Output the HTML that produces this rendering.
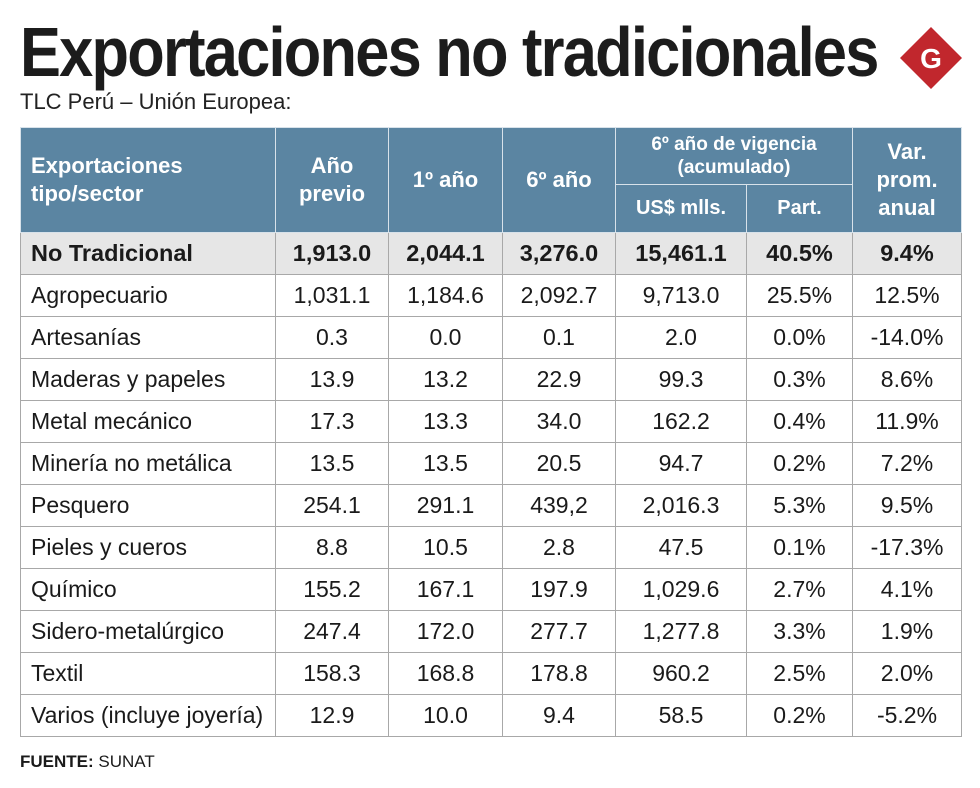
<!DOCTYPE html>
<html><head><meta charset="utf-8">
<style>
body{margin:0;width:980px;height:788px;background:#fff;position:relative;overflow:hidden;font-family:"Liberation Sans",sans-serif;color:#1a1a1a}
#title{position:absolute;left:20px;top:12px;font-weight:bold;font-size:70px;line-height:80px;letter-spacing:-2px;white-space:nowrap;transform-origin:0 0;color:#1c1c1c}
#sub{position:absolute;left:20px;top:89px;font-size:22px;color:#222}
#logo{position:absolute;left:900px;top:27px;width:62px;height:62px}
table{position:absolute;left:20px;top:127px;border-collapse:collapse;table-layout:fixed;width:941px}
td,th{border:1.5px solid #a8a8a8;text-align:center;font-size:23px;padding:0;white-space:nowrap}
th{background:#5b85a2;color:#fff;font-weight:bold;font-size:22px;line-height:28px;border-color:#d8e2ea}
tbody tr{height:42px}
td.n{text-align:left;padding-left:10px}
tr.tot td{background:#e6e6e6;font-weight:bold;font-size:23.5px}
#src{position:absolute;left:20px;top:752px;font-size:17px}
</style></head><body>
<div id="title">Exportaciones no tradicionales</div>
<svg id="logo" viewBox="0 0 62 62"><polygon points="31,0 62,31 31,62 0,31" fill="#c1272d"/><text x="31" y="41" text-anchor="middle" font-family="Liberation Sans" font-weight="bold" font-size="28" fill="#fff">G</text></svg>
<div id="sub">TLC Perú – Unión Europea:</div>
<table>
<colgroup><col style="width:255px"><col style="width:113px"><col style="width:114px"><col style="width:113px"><col style="width:131px"><col style="width:106px"><col style="width:109px"></colgroup>
<thead>
<tr style="height:56px"><th rowspan="2" style="text-align:left;padding-left:10px;height:104px">Exportaciones<br>tipo/sector</th><th rowspan="2">Año<br>previo</th><th rowspan="2">1º año</th><th rowspan="2">6º año</th><th colspan="2" style="font-size:19px;line-height:23px">6º año de vigencia<br>(acumulado)</th><th rowspan="2">Var.<br>prom.<br>anual</th></tr>
<tr style="height:48px"><th style="font-size:20px">US$ mlls.</th><th style="font-size:20px">Part.</th></tr>
</thead>
<tbody id="tb"></tbody>
</table>
<div id="src"><b>FUENTE:</b> SUNAT</div>
<script>
const sectors=["No Tradicional","Agropecuario","Artesanías","Maderas y papeles","Metal mecánico","Minería no metálica","Pesquero","Pieles y cueros","Químico","Sidero-metalúrgico","Textil","Varios (incluye joyería)"];
const prev=["1,913.0","1,031.1","0.3","13.9","17.3","13.5","254.1","8.8","155.2","247.4","158.3","12.9"];
const y1=["2,044.1","1,184.6","0.0","13.2","13.3","13.5","291.1","10.5","167.1","172.0","168.8","10.0"];
const y6=["3,276.0","2,092.7","0.1","22.9","34.0","20.5","439,2","2.8","197.9","277.7","178.8","9.4"];
const acc=["15,461.1","9,713.0","2.0","99.3","162.2","94.7","2,016.3","47.5","1,029.6","1,277.8","960.2","58.5"];
const part=["40.5%","25.5%","0.0%","0.3%","0.4%","0.2%","5.3%","0.1%","2.7%","3.3%","2.5%","0.2%"];
const vr=["9.4%","12.5%","-14.0%","8.6%","11.9%","7.2%","9.5%","-17.3%","4.1%","1.9%","2.0%","-5.2%"];
const tb=document.getElementById('tb');
sectors.forEach((s,i)=>{
  const tr=document.createElement('tr');
  
  
  if(i===0){tr.className='tot';}
  [s,prev[i],y1[i],y6[i],acc[i],part[i],vr[i]].forEach((v,j)=>{
    const td=document.createElement('td');
    td.textContent=v;
    if(j===0)td.className='n';
    
    
    tr.appendChild(td);
  });
  tb.appendChild(tr);
});
const t=document.getElementById('title');
t.style.transform='scaleX('+(858/t.offsetWidth)+')';
</script>
</body></html>
